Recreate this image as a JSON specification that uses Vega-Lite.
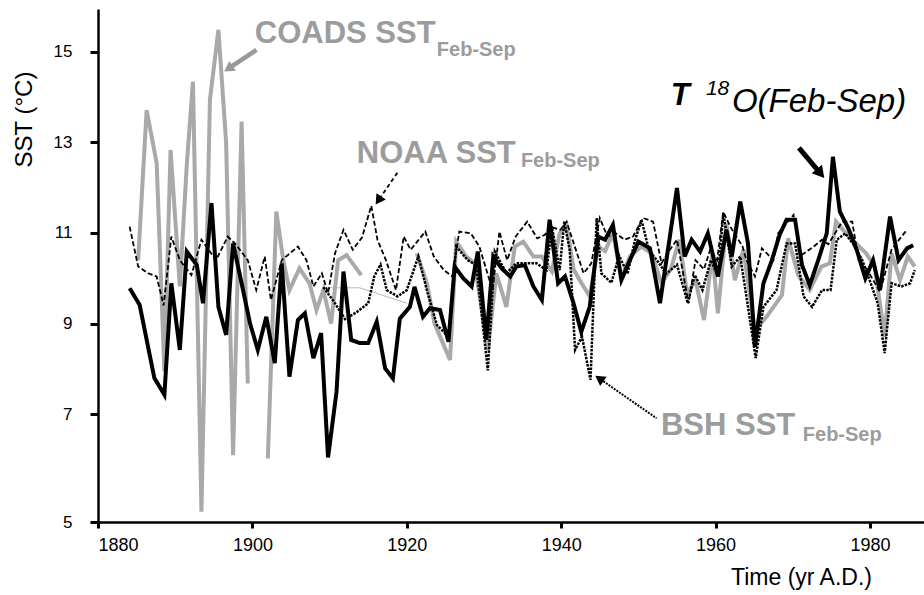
{
  "$schema": "https://vega.github.io/schema/vega-lite/v6.json",
  "width": 826,
  "height": 513,
  "autosize": "none",
  "padding": {"left": 98, "top": 9, "right": 0, "bottom": 73},
  "background": "white",
  "config": {"view": {"stroke": null}, "font": "Liberation Sans"},
  "datasets": {
    "coads": [
      {"year": 1885.2, "sst": 10.4, "seg": 1}, {"year": 1886.3, "sst": 13.71, "seg": 1}, {"year": 1887.6, "sst": 12.54, "seg": 1}, {"year": 1888.6, "sst": 7.95, "seg": 1}, {"year": 1889.4, "sst": 12.83, "seg": 1}, {"year": 1890.6, "sst": 9.82, "seg": 1}, {"year": 1891.5, "sst": 12.5, "seg": 1}, {"year": 1892.3, "sst": 14.34, "seg": 1}, {"year": 1893.4, "sst": 5.19, "seg": 1}, {"year": 1894.5, "sst": 13.94, "seg": 1}, {"year": 1895.6, "sst": 15.48, "seg": 1}, {"year": 1896.6, "sst": 12.98, "seg": 1}, {"year": 1897.5, "sst": 6.24, "seg": 1}, {"year": 1898.6, "sst": 13.46, "seg": 1}, {"year": 1899.4, "sst": 7.68, "seg": 1},
      {"year": 1902.0, "sst": 6.18, "seg": 2}, {"year": 1903.1, "sst": 11.47, "seg": 2}, {"year": 1904.0, "sst": 10.4, "seg": 2}, {"year": 1904.8, "sst": 9.74, "seg": 2}, {"year": 1906.1, "sst": 10.22, "seg": 2}, {"year": 1907.4, "sst": 9.89, "seg": 2}, {"year": 1908.3, "sst": 9.3, "seg": 2}, {"year": 1909.2, "sst": 9.74, "seg": 2}, {"year": 1910.2, "sst": 9.0, "seg": 2}, {"year": 1911.1, "sst": 10.4, "seg": 2}, {"year": 1912.2, "sst": 10.51, "seg": 2}, {"year": 1914.1, "sst": 10.07, "seg": 2},
      {"year": 1921.3, "sst": 10.55, "seg": 3}, {"year": 1922.6, "sst": 9.89, "seg": 3}, {"year": 1923.6, "sst": 9.0, "seg": 3}, {"year": 1925.6, "sst": 8.2, "seg": 3}, {"year": 1926.4, "sst": 10.81, "seg": 3}, {"year": 1927.7, "sst": 10.48, "seg": 3}, {"year": 1928.8, "sst": 10.33, "seg": 3}, {"year": 1930.5, "sst": 8.42, "seg": 3}, {"year": 1931.6, "sst": 10.11, "seg": 3}, {"year": 1932.9, "sst": 9.37, "seg": 3}, {"year": 1934.0, "sst": 10.7, "seg": 3}, {"year": 1935.1, "sst": 10.81, "seg": 3}, {"year": 1936.4, "sst": 10.48, "seg": 3}, {"year": 1937.5, "sst": 10.48, "seg": 3}, {"year": 1938.8, "sst": 10.15, "seg": 3}, {"year": 1939.8, "sst": 10.99, "seg": 3}, {"year": 1940.7, "sst": 11.18, "seg": 3}, {"year": 1941.6, "sst": 10.2, "seg": 3}, {"year": 1942.6, "sst": 9.9, "seg": 3}, {"year": 1943.7, "sst": 9.6, "seg": 3}, {"year": 1944.8, "sst": 10.7, "seg": 3}, {"year": 1945.7, "sst": 10.6, "seg": 3}, {"year": 1946.7, "sst": 11.0, "seg": 3}, {"year": 1947.8, "sst": 10.0, "seg": 3}, {"year": 1948.9, "sst": 10.48, "seg": 3}, {"year": 1950.4, "sst": 10.7, "seg": 3}, {"year": 1951.7, "sst": 10.55, "seg": 3}, {"year": 1953.0, "sst": 9.89, "seg": 3}, {"year": 1954.2, "sst": 10.2, "seg": 3}, {"year": 1955.3, "sst": 10.85, "seg": 3}, {"year": 1956.3, "sst": 9.67, "seg": 3}, {"year": 1957.4, "sst": 9.96, "seg": 3}, {"year": 1958.5, "sst": 9.08, "seg": 3}, {"year": 1959.6, "sst": 10.55, "seg": 3}, {"year": 1960.3, "sst": 9.23, "seg": 3}, {"year": 1961.4, "sst": 11.21, "seg": 3}, {"year": 1962.5, "sst": 9.96, "seg": 3}, {"year": 1963.6, "sst": 10.63, "seg": 3}, {"year": 1965.1, "sst": 8.86, "seg": 3}, {"year": 1966.6, "sst": 9.15, "seg": 3}, {"year": 1968.6, "sst": 9.63, "seg": 3}, {"year": 1969.4, "sst": 10.88, "seg": 3}, {"year": 1970.7, "sst": 10.07, "seg": 3}, {"year": 1972.2, "sst": 9.74, "seg": 3}, {"year": 1973.7, "sst": 10.26, "seg": 3}, {"year": 1974.8, "sst": 10.33, "seg": 3}, {"year": 1975.6, "sst": 11.25, "seg": 3}, {"year": 1976.9, "sst": 10.99, "seg": 3}, {"year": 1978.2, "sst": 10.77, "seg": 3}, {"year": 1979.5, "sst": 10.55, "seg": 3}, {"year": 1980.6, "sst": 10.26, "seg": 3}, {"year": 1981.9, "sst": 8.71, "seg": 3}, {"year": 1982.8, "sst": 10.55, "seg": 3}, {"year": 1983.9, "sst": 9.96, "seg": 3}, {"year": 1984.9, "sst": 10.48, "seg": 3}, {"year": 1985.8, "sst": 10.26, "seg": 3}
    ],
    "coadsThin": [
      {"year": 1910.0, "sst": 9.79}, {"year": 1913.9, "sst": 9.79}, {"year": 1920.0, "sst": 9.45}
    ],
    "noaa": [
      {"year": 1884.1, "sst": 11.14}, {"year": 1885.2, "sst": 10.26}, {"year": 1886.5, "sst": 10.11}, {"year": 1887.6, "sst": 10.04}, {"year": 1888.5, "sst": 9.4}, {"year": 1889.5, "sst": 10.92}, {"year": 1890.6, "sst": 10.4}, {"year": 1892.1, "sst": 10.07}, {"year": 1893.4, "sst": 10.85}, {"year": 1895.3, "sst": 10.4}, {"year": 1896.8, "sst": 10.92}, {"year": 1897.9, "sst": 10.74}, {"year": 1899.4, "sst": 10.4}, {"year": 1900.5, "sst": 9.74}, {"year": 1901.6, "sst": 10.48}, {"year": 1902.4, "sst": 9.52}, {"year": 1903.8, "sst": 10.4}, {"year": 1905.9, "sst": 10.7}, {"year": 1907.0, "sst": 10.4}, {"year": 1907.9, "sst": 9.82}, {"year": 1909.0, "sst": 10.11}, {"year": 1909.8, "sst": 9.67}, {"year": 1910.7, "sst": 10.55}, {"year": 1911.8, "sst": 11.07}, {"year": 1913.0, "sst": 10.63}, {"year": 1914.2, "sst": 10.9}, {"year": 1915.4, "sst": 11.6}, {"year": 1916.2, "sst": 10.85}, {"year": 1917.3, "sst": 10.4}, {"year": 1918.6, "sst": 9.74}, {"year": 1919.6, "sst": 10.92}, {"year": 1920.5, "sst": 10.63}, {"year": 1922.4, "sst": 11.03}, {"year": 1923.5, "sst": 10.48}, {"year": 1924.8, "sst": 10.18}, {"year": 1925.9, "sst": 10.04}, {"year": 1926.8, "sst": 11.03}, {"year": 1928.3, "sst": 10.99}, {"year": 1929.4, "sst": 10.7}, {"year": 1931.1, "sst": 9.74}, {"year": 1932.0, "sst": 11.03}, {"year": 1933.0, "sst": 10.4}, {"year": 1934.1, "sst": 10.92}, {"year": 1935.6, "sst": 11.25}, {"year": 1936.9, "sst": 10.88}, {"year": 1937.9, "sst": 10.96}, {"year": 1938.5, "sst": 11.14}, {"year": 1939.9, "sst": 11.07}, {"year": 1940.7, "sst": 11.25}, {"year": 1942.9, "sst": 10.11}, {"year": 1943.9, "sst": 10.33}, {"year": 1945.0, "sst": 11.33}, {"year": 1946.0, "sst": 10.92}, {"year": 1947.1, "sst": 10.99}, {"year": 1948.2, "sst": 10.85}, {"year": 1949.3, "sst": 10.92}, {"year": 1950.6, "sst": 11.33}, {"year": 1951.9, "sst": 11.25}, {"year": 1953.0, "sst": 10.33}, {"year": 1953.9, "sst": 10.59}, {"year": 1955.0, "sst": 10.85}, {"year": 1956.5, "sst": 9.45}, {"year": 1957.4, "sst": 10.4}, {"year": 1958.5, "sst": 10.2}, {"year": 1959.3, "sst": 10.63}, {"year": 1960.2, "sst": 10.4}, {"year": 1961.0, "sst": 11.47}, {"year": 1961.9, "sst": 11.14}, {"year": 1963.5, "sst": 10.7}, {"year": 1964.0, "sst": 10.4}, {"year": 1965.1, "sst": 10.04}, {"year": 1966.0, "sst": 10.66}, {"year": 1967.5, "sst": 10.4}, {"year": 1968.1, "sst": 10.99}, {"year": 1970.1, "sst": 11.4}, {"year": 1971.0, "sst": 10.5}, {"year": 1971.8, "sst": 10.59}, {"year": 1972.7, "sst": 10.7}, {"year": 1973.8, "sst": 10.85}, {"year": 1974.6, "sst": 10.75}, {"year": 1975.5, "sst": 11.0}, {"year": 1976.4, "sst": 11.25}, {"year": 1977.7, "sst": 11.25}, {"year": 1978.6, "sst": 10.33}, {"year": 1979.6, "sst": 10.2}, {"year": 1981.3, "sst": 9.7}, {"year": 1982.8, "sst": 10.63}, {"year": 1983.9, "sst": 10.88}, {"year": 1984.8, "sst": 11.07}
    ],
    "bsh": [
      {"year": 1909.2, "sst": 9.8}, {"year": 1910.5, "sst": 9.5}, {"year": 1912.0, "sst": 9.1}, {"year": 1913.5, "sst": 9.25}, {"year": 1915.0, "sst": 9.45}, {"year": 1915.8, "sst": 10.05}, {"year": 1916.6, "sst": 10.3}, {"year": 1917.4, "sst": 9.74}, {"year": 1918.8, "sst": 9.6}, {"year": 1920.0, "sst": 9.74}, {"year": 1921.5, "sst": 10.48}, {"year": 1922.6, "sst": 9.74}, {"year": 1923.9, "sst": 8.97}, {"year": 1925.4, "sst": 8.71}, {"year": 1926.4, "sst": 10.7}, {"year": 1927.9, "sst": 10.4}, {"year": 1929.0, "sst": 10.29}, {"year": 1930.5, "sst": 7.97}, {"year": 1931.4, "sst": 10.59}, {"year": 1932.9, "sst": 10.11}, {"year": 1934.2, "sst": 10.33}, {"year": 1935.5, "sst": 10.33}, {"year": 1936.8, "sst": 10.33}, {"year": 1938.1, "sst": 10.18}, {"year": 1938.8, "sst": 11.14}, {"year": 1939.8, "sst": 10.18}, {"year": 1940.4, "sst": 11.25}, {"year": 1941.1, "sst": 10.63}, {"year": 1941.8, "sst": 8.42}, {"year": 1942.7, "sst": 8.71}, {"year": 1943.8, "sst": 7.76}, {"year": 1944.6, "sst": 11.33}, {"year": 1945.2, "sst": 10.11}, {"year": 1946.5, "sst": 9.9}, {"year": 1947.5, "sst": 10.5}, {"year": 1948.6, "sst": 10.1}, {"year": 1949.5, "sst": 10.8}, {"year": 1950.4, "sst": 11.29}, {"year": 1951.4, "sst": 10.6}, {"year": 1952.4, "sst": 10.4}, {"year": 1953.6, "sst": 10.1}, {"year": 1955.0, "sst": 10.3}, {"year": 1956.4, "sst": 9.45}, {"year": 1957.3, "sst": 10.07}, {"year": 1958.3, "sst": 9.74}, {"year": 1959.4, "sst": 10.4}, {"year": 1960.3, "sst": 10.04}, {"year": 1961.0, "sst": 11.43}, {"year": 1962.1, "sst": 10.26}, {"year": 1963.2, "sst": 10.48}, {"year": 1964.2, "sst": 9.37}, {"year": 1965.2, "sst": 8.24}, {"year": 1966.2, "sst": 9.37}, {"year": 1967.9, "sst": 9.74}, {"year": 1969.2, "sst": 10.77}, {"year": 1970.3, "sst": 10.77}, {"year": 1971.4, "sst": 9.6}, {"year": 1972.5, "sst": 9.37}, {"year": 1973.8, "sst": 9.74}, {"year": 1974.9, "sst": 9.74}, {"year": 1975.7, "sst": 10.85}, {"year": 1976.8, "sst": 10.99}, {"year": 1977.9, "sst": 10.74}, {"year": 1979.0, "sst": 10.4}, {"year": 1980.1, "sst": 9.89}, {"year": 1981.0, "sst": 9.45}, {"year": 1981.9, "sst": 8.35}, {"year": 1982.8, "sst": 9.89}, {"year": 1984.1, "sst": 9.82}, {"year": 1985.2, "sst": 9.89}, {"year": 1985.8, "sst": 10.18}
    ],
    "d18o": [
      {"year": 1884.1, "sst": 9.78}, {"year": 1885.4, "sst": 9.41}, {"year": 1887.3, "sst": 7.8}, {"year": 1888.6, "sst": 7.43}, {"year": 1889.5, "sst": 9.89}, {"year": 1890.6, "sst": 8.42}, {"year": 1891.5, "sst": 10.59}, {"year": 1892.8, "sst": 10.29}, {"year": 1893.6, "sst": 9.45}, {"year": 1894.7, "sst": 11.66}, {"year": 1895.6, "sst": 9.37}, {"year": 1896.6, "sst": 8.75}, {"year": 1897.5, "sst": 10.77}, {"year": 1898.6, "sst": 9.89}, {"year": 1899.7, "sst": 9.0}, {"year": 1900.7, "sst": 8.42}, {"year": 1901.8, "sst": 9.15}, {"year": 1902.9, "sst": 8.13}, {"year": 1903.8, "sst": 10.33}, {"year": 1904.8, "sst": 7.83}, {"year": 1905.9, "sst": 9.08}, {"year": 1906.8, "sst": 9.23}, {"year": 1907.9, "sst": 8.24}, {"year": 1908.9, "sst": 8.79}, {"year": 1909.8, "sst": 6.2}, {"year": 1910.9, "sst": 7.5}, {"year": 1911.8, "sst": 10.15}, {"year": 1912.8, "sst": 8.64}, {"year": 1913.9, "sst": 8.57}, {"year": 1915.0, "sst": 8.57}, {"year": 1916.1, "sst": 9.04}, {"year": 1917.2, "sst": 8.01}, {"year": 1918.2, "sst": 7.79}, {"year": 1919.1, "sst": 9.11}, {"year": 1920.4, "sst": 9.37}, {"year": 1921.0, "sst": 9.81}, {"year": 1922.1, "sst": 9.15}, {"year": 1923.0, "sst": 9.34}, {"year": 1924.3, "sst": 9.3}, {"year": 1925.4, "sst": 8.6}, {"year": 1926.2, "sst": 10.26}, {"year": 1927.3, "sst": 10.0}, {"year": 1928.4, "sst": 9.82}, {"year": 1929.2, "sst": 10.59}, {"year": 1930.3, "sst": 8.64}, {"year": 1931.2, "sst": 10.48}, {"year": 1932.3, "sst": 10.22}, {"year": 1933.4, "sst": 10.04}, {"year": 1934.2, "sst": 10.26}, {"year": 1935.3, "sst": 10.29}, {"year": 1936.4, "sst": 9.82}, {"year": 1937.5, "sst": 9.52}, {"year": 1938.5, "sst": 11.29}, {"year": 1939.6, "sst": 9.89}, {"year": 1940.5, "sst": 10.04}, {"year": 1941.6, "sst": 9.45}, {"year": 1942.6, "sst": 8.82}, {"year": 1943.7, "sst": 9.37}, {"year": 1944.8, "sst": 10.92}, {"year": 1945.7, "sst": 10.85}, {"year": 1946.7, "sst": 11.18}, {"year": 1947.8, "sst": 9.96}, {"year": 1948.9, "sst": 10.4}, {"year": 1950.0, "sst": 10.81}, {"year": 1951.5, "sst": 10.66}, {"year": 1952.8, "sst": 9.45}, {"year": 1953.7, "sst": 10.48}, {"year": 1955.0, "sst": 11.99}, {"year": 1956.0, "sst": 10.48}, {"year": 1956.9, "sst": 10.85}, {"year": 1958.0, "sst": 10.59}, {"year": 1959.0, "sst": 10.99}, {"year": 1960.3, "sst": 10.04}, {"year": 1961.4, "sst": 11.07}, {"year": 1962.1, "sst": 10.48}, {"year": 1963.2, "sst": 11.69}, {"year": 1964.2, "sst": 10.77}, {"year": 1965.1, "sst": 8.49}, {"year": 1966.2, "sst": 9.89}, {"year": 1967.3, "sst": 10.4}, {"year": 1968.3, "sst": 10.96}, {"year": 1969.2, "sst": 11.29}, {"year": 1970.3, "sst": 11.29}, {"year": 1971.2, "sst": 10.29}, {"year": 1972.2, "sst": 9.85}, {"year": 1973.3, "sst": 10.4}, {"year": 1974.4, "sst": 10.99}, {"year": 1975.2, "sst": 12.68}, {"year": 1976.1, "sst": 11.47}, {"year": 1977.2, "sst": 11.1}, {"year": 1978.3, "sst": 10.62}, {"year": 1979.4, "sst": 10.0}, {"year": 1980.4, "sst": 10.4}, {"year": 1981.3, "sst": 9.74}, {"year": 1982.6, "sst": 11.36}, {"year": 1983.7, "sst": 10.4}, {"year": 1984.8, "sst": 10.66}, {"year": 1985.6, "sst": 10.73}
    ]
  },
  "encoding": {
    "x": {"field": "year", "type": "quantitative",
      "scale": {"domain": [1880, 1987], "nice": false, "zero": false},
      "axis": {"values": [1880, 1900, 1920, 1940, 1960, 1980], "format": "d", "grid": false,
        "domainColor": "black", "domainWidth": 2.5, "tickColor": "black", "tickWidth": 3, "tickSize": 6,
        "labelFont": "Liberation Sans", "labelFontSize": 18, "labelColor": "black", "labelPadding": 8,
        "title": "Time (yr A.D.)", "titleFont": "Liberation Sans", "titleFontSize": 23, "titleFontWeight": "normal", "titleColor": "black",
        "titleX": 703, "titleY": 44, "titleAlign": "center", "titleBaseline": "top"}},
    "y": {"field": "sst", "type": "quantitative",
      "scale": {"domain": [5, 7, 15.94], "range": [513, 405.3, 0], "nice": false, "zero": false},
      "axis": {"values": [5, 7, 9, 11, 13, 15], "grid": false,
        "domainColor": "black", "domainWidth": 2.5, "tickColor": "black", "tickWidth": 3, "tickSize": 8,
        "labelFont": "Liberation Sans", "labelFontSize": 17, "labelColor": "black", "labelPadding": 18,
        "title": "SST (°C)", "titleFont": "Liberation Sans", "titleFontSize": 24, "titleFontWeight": "normal", "titleColor": "black",
        "titleX": -74, "titleY": 110, "titleAlign": "center", "titleBaseline": "middle", "titleAngle": -90}}
  },
  "layer": [
    {"data": {"name": "coadsThin"}, "mark": {"type": "line", "color": "#b8b8b8", "strokeWidth": 1}},
    {"data": {"name": "coads"}, "mark": {"type": "line", "color": "#a9a9a9", "strokeWidth": 4}, "encoding": {"detail": {"field": "seg"}}},
    {"data": {"name": "bsh"}, "mark": {"type": "line", "color": "black", "strokeWidth": 2.5, "strokeDash": [2.5, 1.2]}},
    {"data": {"name": "noaa"}, "mark": {"type": "line", "color": "black", "strokeWidth": 1.8, "strokeDash": [5, 2.5]}},
    {"data": {"name": "d18o"}, "mark": {"type": "line", "color": "black", "strokeWidth": 4}},
    {"data": {"values": [{"year": 1900.53, "sst": 15.037}, {"year": 1897.07, "sst": 14.645}]}, "mark": {"type": "line", "color": "#999999", "strokeWidth": 4.5}},
    {"data": {"values": [{"year": 1897.07, "sst": 14.645}]}, "mark": {"type": "point", "shape": "triangle", "angle": 236, "filled": true, "color": "#999999", "size": 140, "opacity": 1}},
    {"data": {"values": [{"year": 1918.88, "sst": 12.353}, {"year": 1916.44, "sst": 11.746}]}, "mark": {"type": "line", "color": "black", "strokeWidth": 1.8, "strokeDash": [4, 3]}},
    {"data": {"values": [{"year": 1916.44, "sst": 11.746}]}, "mark": {"type": "point", "shape": "triangle", "angle": 214, "filled": true, "color": "black", "size": 130, "opacity": 1}},
    {"data": {"values": [{"year": 1970.8, "sst": 12.876}, {"year": 1973.44, "sst": 12.344}]}, "mark": {"type": "line", "color": "black", "strokeWidth": 5}},
    {"data": {"values": [{"year": 1973.44, "sst": 12.344}]}, "mark": {"type": "point", "shape": "triangle", "angle": 140, "filled": true, "color": "black", "size": 180, "opacity": 1}},
    {"data": {"values": [{"year": 1952.36, "sst": 6.926}, {"year": 1945.12, "sst": 7.769}]}, "mark": {"type": "line", "color": "black", "strokeWidth": 2, "strokeDash": [2, 1.2]}},
    {"data": {"values": [{"year": 1945.12, "sst": 7.769}]}, "mark": {"type": "point", "shape": "triangle", "angle": 305, "filled": true, "color": "black", "size": 130, "opacity": 1}},
    {"data": {"values": [{"year": 1900.31, "sst": 15.185, "label": "COADS SST"}, {"year": 1913.52, "sst": 12.538, "label": "NOAA SST"}, {"year": 1952.92, "sst": 6.616, "label": "BSH SST"}]},
     "mark": {"type": "text", "align": "left", "baseline": "alphabetic", "font": "Liberation Sans", "fontSize": 31, "fontWeight": "bold", "color": "#9c9c9c"},
     "encoding": {"text": {"field": "label"}}},
    {"data": {"values": [{"year": 1923.89, "sst": 14.905, "label": "Feb-Sep"}, {"year": 1934.78, "sst": 12.456, "label": "Feb-Sep"}, {"year": 1971.3, "sst": 6.505, "label": "Feb-Sep"}]},
     "mark": {"type": "text", "align": "left", "baseline": "alphabetic", "font": "Liberation Sans", "fontSize": 20, "fontWeight": "bold", "color": "#9c9c9c"},
     "encoding": {"text": {"field": "label"}}},
    {"data": {"values": [{"year": 1954.21, "sst": 13.824, "label": "T"}]},
     "mark": {"type": "text", "align": "left", "baseline": "alphabetic", "font": "Liberation Sans", "fontSize": 31, "fontWeight": "bold", "fontStyle": "italic", "color": "black"},
     "encoding": {"text": {"field": "label"}}},
    {"data": {"values": [{"year": 1958.75, "sst": 14.045, "label": "18"}]},
     "mark": {"type": "text", "align": "left", "baseline": "alphabetic", "font": "Liberation Sans", "fontSize": 21, "fontStyle": "italic", "color": "black"},
     "encoding": {"text": {"field": "label"}}},
    {"data": {"values": [{"year": 1962.12, "sst": 13.67, "label": "O(Feb-Sep)"}]},
     "mark": {"type": "text", "align": "left", "baseline": "alphabetic", "font": "Liberation Sans", "fontSize": 33, "fontStyle": "italic", "color": "black"},
     "encoding": {"text": {"field": "label"}}}
  ]
}
